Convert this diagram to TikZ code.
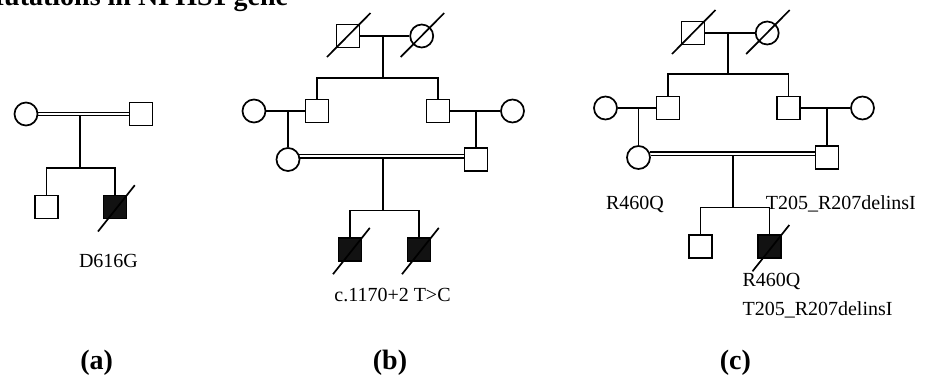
\documentclass[tikz,border=0pt]{standalone}
\usepackage{fontspec}
\setmainfont{Liberation Serif}
\begin{document}
\begin{tikzpicture}[x=1pt,y=-1pt,line width=1.7pt,
  male/.style={draw,rectangle,minimum size=23pt,inner sep=0pt,line width=1.7pt},
  female/.style={draw,circle,minimum size=23pt,inner sep=0pt,line width=1.7pt},
  affected/.style={fill=black!93},
  mutation/.style={font=\fontsize{20}{24}\selectfont,inner sep=0pt},
  panel/.style={font=\fontsize{28}{32}\selectfont\bfseries,inner sep=0pt},
]
\useasboundingbox (0,0) rectangle (930,376);
\clip (0,0) rectangle (930,376);

% heading, partly running off the top edge
\node[panel,anchor=base east] (title) at (289,5) {Mutations in NPHS1 gene};

% ---------------- family (a) ----------------
\node[female] (a-f) at (26,114) {};
\node[male] (a-m) at (141,114) {};
\node[male] (a-c1) at (46.5,207) {};
\node[male,affected] (a-c2) at (115,207) {};
\coordinate (a-mid) at (80,115.6);
\coordinate (a-sib) at (80,168);
\draw[line width=1.3pt] (a-f.8) -- (a-f.8 -| a-m.west);
\draw[line width=1.3pt] (a-f.-8) -- (a-f.-8 -| a-m.west);
\draw (a-mid) -- (a-sib);
\draw (a-c1.north) -- (a-c1.north |- a-sib) -- (a-c2.north |- a-sib) -- (a-c2.north);
\draw ([shift={(-17,24.5)}]a-c2.center) -- ([shift={(19.8,-21.8)}]a-c2.center);
\node[mutation,anchor=base] (a-lab) at (108.5,267.5) {D616G};
\node[panel,anchor=base] (a-cap) at (96.7,369) {(a)};

% ---------------- family (b) ----------------
\node[male] (b-gf) at (348,36) {};
\node[female] (b-gm) at (421.7,36) {};
\node[female] (b-w1) at (254,111) {};
\node[male] (b-s1) at (317,111) {};
\node[male] (b-s2) at (438,111) {};
\node[female] (b-w2) at (512.5,111) {};
\node[female] (b-p1) at (288,159.5) {};
\node[male] (b-p2) at (476,159.5) {};
\node[male,affected] (b-c1) at (350,249.7) {};
\node[male,affected] (b-c2) at (419,249.7) {};
\coordinate (b-top) at (383,36);
\coordinate (b-sib1) at (383,77.7);
\coordinate (b-mid) at (383,158);
\coordinate (b-sib2) at (383,210.5);
\draw (b-gf) -- (b-gm);
\draw ([shift={(-21,21)}]b-gf.center) -- ([shift={(22.5,-23)}]b-gf.center);
\draw ([shift={(-21,21)}]b-gm.center) -- ([shift={(22.5,-23)}]b-gm.center);
\draw (b-top) -- (b-sib1);
\draw (b-s1.north) -- (b-s1.north |- b-sib1) -- (b-s2.north |- b-sib1) -- (b-s2.north);
\draw (b-w1) -- (b-s1);
\draw (b-s2) -- (b-w2);
\draw (b-p1.north |- b-w1) -- (b-p1.north);
\draw (b-p2.north |- b-w2) -- (b-p2.north);
\draw[line width=1.3pt] (b-p1.24) -- (b-p1.24 -| b-p2.west);
\draw[line width=1.3pt] (b-p1.7) -- (b-p1.7 -| b-p2.west);
\draw (b-mid) -- (b-sib2);
\draw (b-c1.north) -- (b-c1.north |- b-sib2) -- (b-c2.north |- b-sib2) -- (b-c2.north);
\draw ([shift={(-17,24.5)}]b-c1.center) -- ([shift={(19.8,-21.8)}]b-c1.center);
\draw ([shift={(-17,24.5)}]b-c2.center) -- ([shift={(19.8,-21.8)}]b-c2.center);
\node[mutation,anchor=base] (b-lab) at (392.5,301.5) {c.1170+2 T>C};
\node[panel,anchor=base] (b-cap) at (390,369) {(b)};

% ---------------- family (c) ----------------
\node[male] (c-gf) at (693,33) {};
\node[female] (c-gm) at (767.2,33) {};
\node[female] (c-w1) at (605.5,108) {};
\node[male] (c-s1) at (668,108) {};
\node[male] (c-s2) at (788.5,108) {};
\node[female] (c-w2) at (862.5,108) {};
\node[female] (c-p1) at (638.5,157.5) {};
\node[male] (c-p2) at (827,157.5) {};
\node[male] (c-c1) at (700.5,246.8) {};
\node[male,affected] (c-c2) at (769.5,246.8) {};
\coordinate (c-top) at (728.3,33);
\coordinate (c-sib1) at (728.3,74);
\coordinate (c-mid) at (733.3,155.5);
\coordinate (c-sib2) at (733.3,207.5);
\draw (c-gf) -- (c-gm);
\draw ([shift={(-21,21)}]c-gf.center) -- ([shift={(22.5,-23)}]c-gf.center);
\draw ([shift={(-21,21)}]c-gm.center) -- ([shift={(22.5,-23)}]c-gm.center);
\draw (c-top) -- (c-sib1);
\draw (c-s1.north) -- (c-s1.north |- c-sib1) -- (c-s2.north |- c-sib1) -- (c-s2.north);
\draw (c-w1) -- (c-s1);
\draw (c-s2) -- (c-w2);
\draw (c-p1.north |- c-w1) -- (c-p1.north);
\draw (c-p2.north |- c-w2) -- (c-p2.north);
\draw[line width=1.3pt] (c-p1.27) -- (c-p1.27 -| c-p2.west);
\draw[line width=1.3pt] (c-p1.9) -- (c-p1.9 -| c-p2.west);
\draw (c-mid) -- (c-sib2);
\draw (c-c1.north) -- (c-c1.north |- c-sib2) -- (c-c2.north |- c-sib2) -- (c-c2.north);
\draw ([shift={(-17,24.5)}]c-c2.center) -- ([shift={(19.8,-21.8)}]c-c2.center);
\node[mutation,anchor=base] (c-lab1) at (635,209) {R460Q};
\node[mutation,anchor=base] (c-lab2) at (840.8,209) {T205\_R207delinsI};
\node[mutation,anchor=base west] (c-lab3) at (741.7,286.5) {R460Q};
\node[mutation,anchor=base west] (c-lab4) at (741.7,315) {T205\_R207delinsI};
\node[panel,anchor=base] (c-cap) at (735.3,369) {(c)};
\end{tikzpicture}
\end{document}
